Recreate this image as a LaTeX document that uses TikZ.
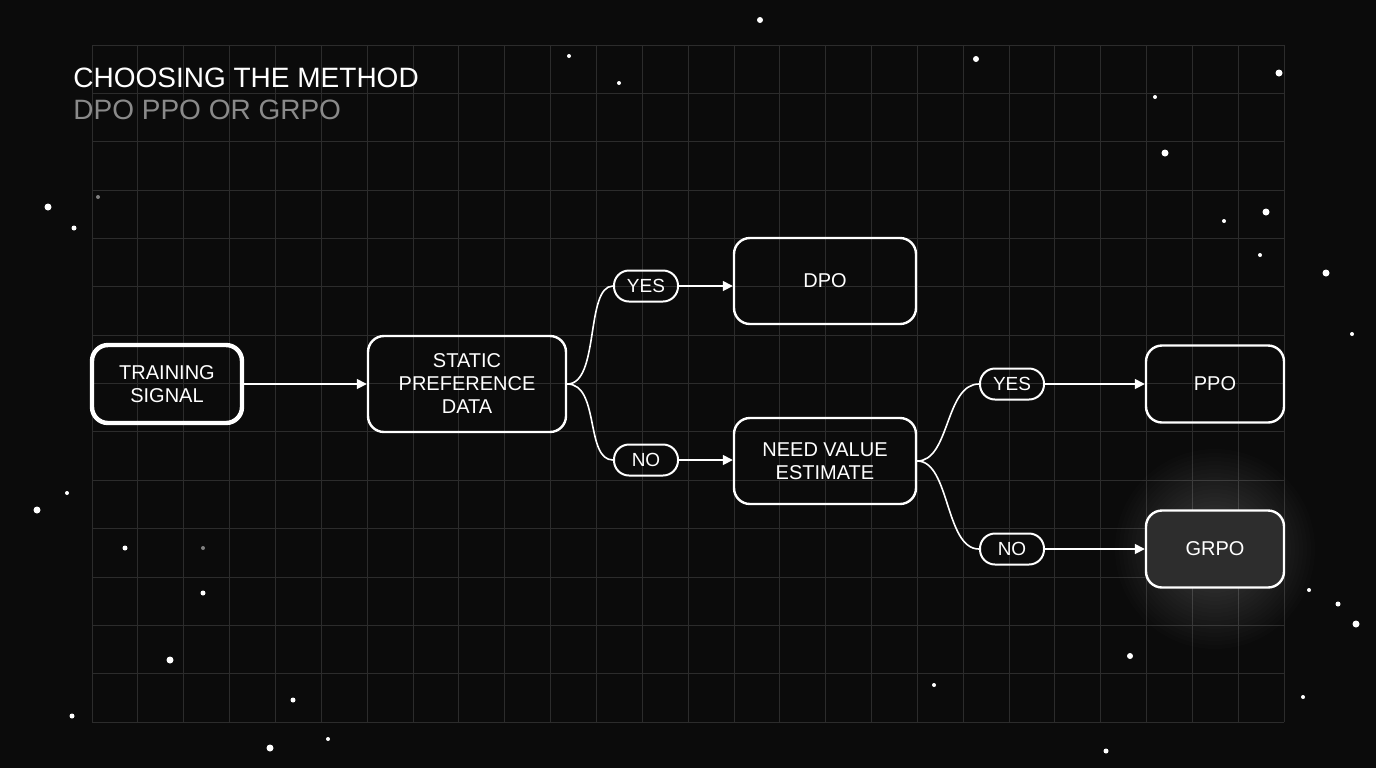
\documentclass[tikz,border=0pt]{standalone}
\usepackage{fontspec}
\setmainfont{Liberation Sans}
\usetikzlibrary{arrows.meta}
\definecolor{bgblack}{HTML}{0B0B0B}
\definecolor{gridgrey}{HTML}{2C2C2C}
\definecolor{subgrey}{HTML}{8A8A8A}
\tikzset{
  box/.style={draw=white, line width=1.2pt, rounded corners=8pt, text=white, align=center, font=\fontsize{10}{11.5}\selectfont, inner sep=0pt},
  pill/.style={draw=white, line width=1pt, rounded corners=7.5pt, text=white, minimum width=32pt, minimum height=15.5pt, font=\fontsize{9.5}{11}\selectfont, inner sep=0pt},
  link/.style={draw=white, line width=0.8pt},
  arrow/.style={link, -{Triangle[length=5pt,width=5pt]}},
  star/.style={fill=white, draw=none}
}
\begin{document}
\begin{tikzpicture}[x=0.5pt, y=-0.5pt]
        % Background and grid
        \fill[bgblack] (0,0) rectangle (1376,768);
        \useasboundingbox (0,0) rectangle (1376,768);
        \foreach \i in {0,...,26} \draw[gridgrey, line width=0.4pt] (92+\i*45.85,45) -- (92+\i*45.85,722);
        \foreach \j in {0,...,14} \draw[gridgrey, line width=0.4pt] (92,45+\j*48.36) -- (1284,45+\j*48.36);

        % Stars
        \foreach \x/\y/\r in {760/20/3, 569/56/2, 619/83/2, 976/59/3, 1279/73/3.5, 1155/97/2, 1165/153/3.5, 48/207/3.5, 74/228/2.5, 1266/212/3.5, 1224/221/2, 1260/255/2, 1326/273/3.5, 1352/334/2, 67/493/2, 37/510/3.5, 125/548/2.5, 203/593/2.5, 170/660/3.5, 1309/590/2, 1338/604/2.5, 1356/624/3.5, 1130/656/3, 934/685/2, 1303/697/2, 293/700/2.5, 72/716/2.5, 328/739/2, 270/748/3.5, 1106/751/2.5}
          \fill[star] (\x,\y) circle (\r);
        \fill[gray] (98,197) circle (2);
        \fill[gray] (203,548) circle (2);

        % Title
        \node[anchor=west, inner sep=0pt, text=white, font=\fontsize{14}{16}\selectfont] (title) at (73,78) {CHOOSING THE METHOD};
        \node[anchor=west, inner sep=0pt, text=subgrey, font=\fontsize{14}{16}\selectfont] (subtitle) at (73,110) {DPO PPO OR GRPO};

        % Glow behind GRPO
        \foreach \k in {1,...,24}
          \fill[white, opacity=0.012] (1215,549) circle (4+\k*4);

        % Nodes
        \node[box, line width=2.2pt, minimum width=75pt, minimum height=39pt] (signal) at (167,384) {TRAINING\\SIGNAL};
        \node[box, minimum width=99pt, minimum height=48pt] (static) at (467,384) {STATIC\\PREFERENCE\\DATA};
        \node[pill] (yesa) at (646,286) {YES};
        \node[pill] (noa) at (646,460) {NO};
        \node[box, minimum width=91pt, minimum height=43pt] (dpo) at (825,281) {DPO};
        \node[box, minimum width=91pt, minimum height=43pt] (value) at (825,461) {NEED VALUE\\ESTIMATE};
        \node[pill] (yesb) at (1012,384) {YES};
        \node[pill] (nob) at (1012,549) {NO};
        \node[box, minimum width=69pt, minimum height=38.5pt] (ppo) at (1215,384) {PPO};
        \node[box, fill=white!14!bgblack, minimum width=69pt, minimum height=38.5pt] (grpo) at (1215,549) {GRPO};

        % Connectors
        \draw[arrow] (signal) -- (static);
        \draw[link] (static.east) .. controls (600,384) and (585,286) .. (yesa.west);
        \draw[link] (static.east) .. controls (600,384) and (585,460) .. (noa.west);
        \draw[arrow] (yesa) -- (yesa -| dpo.west);
        \draw[arrow] (noa) -- (noa -| value.west);
        \draw[link] (value.east) .. controls (950,461) and (945,384) .. (yesb.west);
        \draw[link] (value.east) .. controls (950,461) and (945,549) .. (nob.west);
        \draw[arrow] (yesb) -- (ppo);
        \draw[arrow] (nob) -- (grpo);
\end{tikzpicture}
\end{document}
